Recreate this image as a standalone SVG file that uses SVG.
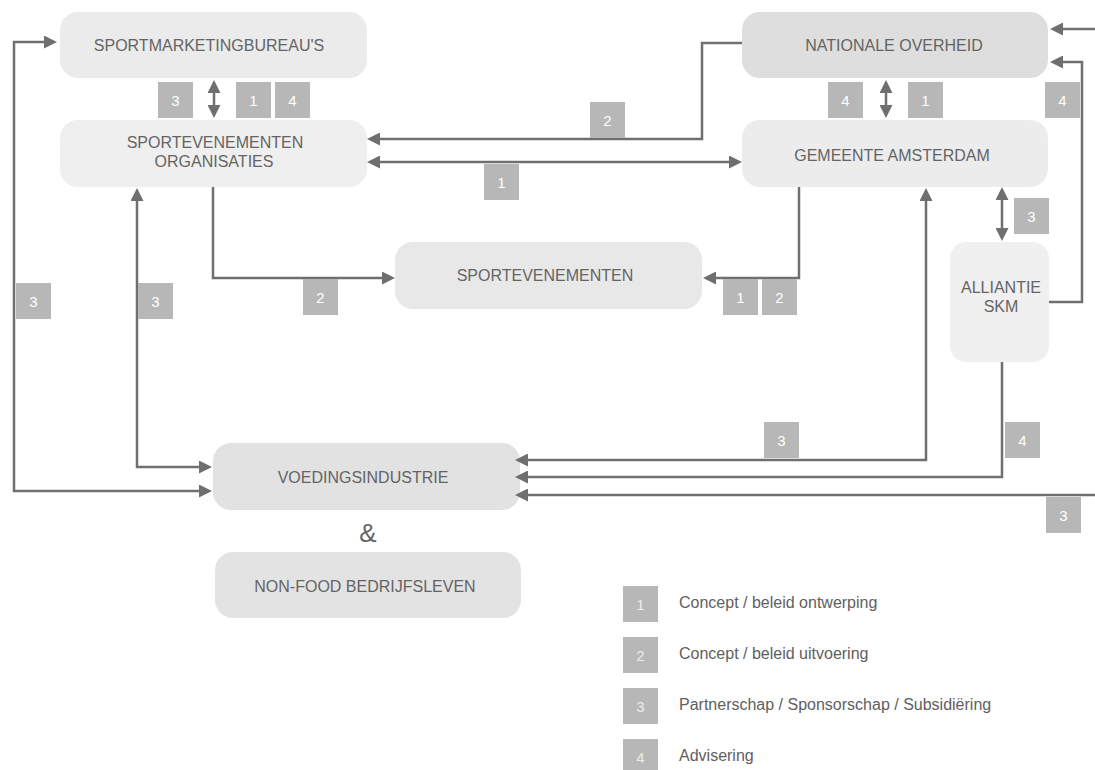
<svg xmlns="http://www.w3.org/2000/svg" width="1095" height="770" viewBox="0 0 1095 770">
  <defs>
    <marker id="arrow" markerUnits="userSpaceOnUse" markerWidth="13" markerHeight="13" refX="1" refY="6.5" orient="auto-start-reverse">
      <path d="M0,0 L13,6.5 L0,13 z" fill="#6f6f6f"/>
    </marker>
    <style>
      .node text { font-family: "Liberation Sans", Arial, sans-serif; font-size: 16px; fill: #646464; text-anchor: middle; }
      .box { stroke: none; }
      .edge { fill: none; stroke: #6f6f6f; stroke-width: 2.5; }
      .one { marker-end: url(#arrow); }
      .two { marker-start: url(#arrow); marker-end: url(#arrow); }
      .badge rect { fill: #b7b7b7; }
      .badge text { font-family: "Liberation Sans", Arial, sans-serif; font-size: 15px; fill: #ffffff; text-anchor: middle; }
      .legend .badge text { fill: #ececec; }
      .legend text.label { font-family: "Liberation Sans", Arial, sans-serif; font-size: 16px; fill: #606060; }
    </style>
  </defs>

  <rect width="1095" height="770" fill="#ffffff"/>

  <!-- nodes -->
  <g id="sportmarketingbureaus" class="node">
    <rect class="box" x="60" y="12" width="307" height="66" rx="18" fill="#ebebeb"/>
    <text x="209" y="51">SPORTMARKETINGBUREAU'S</text>
  </g>
  <g id="sportevenementen-organisaties" class="node">
    <rect class="box" x="60" y="120" width="307" height="67" rx="18" fill="#efefef"/>
    <text x="215" y="148">SPORTEVENEMENTEN</text>
    <text x="214" y="167">ORGANISATIES</text>
  </g>
  <g id="nationale-overheid" class="node">
    <rect class="box" x="742" y="12" width="306" height="66" rx="18" fill="#dedede"/>
    <text x="894" y="51">NATIONALE OVERHEID</text>
  </g>
  <g id="gemeente-amsterdam" class="node">
    <rect class="box" x="742" y="120" width="306" height="67" rx="18" fill="#ececec"/>
    <text x="892" y="161">GEMEENTE AMSTERDAM</text>
  </g>
  <g id="sportevenementen" class="node">
    <rect class="box" x="395" y="242" width="307" height="67" rx="18" fill="#e8e8e8"/>
    <text x="545" y="281">SPORTEVENEMENTEN</text>
  </g>
  <g id="alliantie-skm" class="node">
    <rect class="box" x="950" y="242" width="99" height="120" rx="16" fill="#f0f0f0"/>
    <text x="1001" y="293">ALLIANTIE</text>
    <text x="1001" y="312">SKM</text>
  </g>
  <g id="voedingsindustrie" class="node">
    <rect class="box" x="213" y="443" width="307" height="67" rx="18" fill="#e2e2e2"/>
    <text x="363" y="483">VOEDINGSINDUSTRIE</text>
  </g>
  <g id="ampersand" class="node">
    <text x="368" y="542" style="font-size:26px">&amp;</text>
  </g>
  <g id="non-food-bedrijfsleven" class="node">
    <rect class="box" x="215" y="552" width="306" height="66" rx="18" fill="#e3e3e3"/>
    <text x="365" y="592">NON-FOOD BEDRIJFSLEVEN</text>
  </g>

  <!-- connectors -->
  <g id="connectors">
    <path class="edge two" d="M45,42 L14,42 L14,491 L200,491"/>
    <path class="edge two" d="M137,200 L137,467 L200,467"/>
    <path class="edge two" d="M214,92 L214,106"/>
    <path class="edge two" d="M886,92 L886,106"/>
    <path class="edge two" d="M379,162 L730,162"/>
    <path class="edge one" d="M742,43 L702,43 L702,139 L379,139"/>
    <path class="edge one" d="M213,187 L213,278 L383,278"/>
    <path class="edge one" d="M799,187 L799,278 L715,278"/>
    <path class="edge two" d="M926,200 L926,460 L527,460"/>
    <path class="edge two" d="M1002,199 L1002,229"/>
    <path class="edge one" d="M1002,362 L1002,477 L527,477"/>
    <path class="edge one" d="M1095,495 L527,495"/>
    <path class="edge one" d="M1049,302 L1082,302 L1082,62 L1062,62"/>
    <path class="edge one" d="M1095,29 L1062,29"/>
  </g>

  <!-- relation badges -->
  <g id="badges">
    <g class="badge"><rect x="158" y="82" width="35" height="36"/><text x="175.5" y="105.5">3</text></g>
    <g class="badge"><rect x="236" y="82" width="35" height="36"/><text x="253.5" y="105.5">1</text></g>
    <g class="badge"><rect x="275" y="82" width="35" height="36"/><text x="292.5" y="105.5">4</text></g>
    <g class="badge"><rect x="828" y="82" width="35" height="36"/><text x="845.5" y="105.5">4</text></g>
    <g class="badge"><rect x="908" y="82" width="35" height="36"/><text x="925.5" y="105.5">1</text></g>
    <g class="badge"><rect x="1045" y="82" width="35" height="36"/><text x="1062.5" y="105.5">4</text></g>
    <g class="badge"><rect x="590" y="102" width="35" height="36"/><text x="607.5" y="125.5">2</text></g>
    <g class="badge"><rect x="484" y="164" width="35" height="36"/><text x="501.5" y="187.5">1</text></g>
    <g class="badge"><rect x="303" y="279" width="35" height="36"/><text x="320.5" y="302.5">2</text></g>
    <g class="badge"><rect x="723" y="279" width="35" height="36"/><text x="740.5" y="302.5">1</text></g>
    <g class="badge"><rect x="762" y="279" width="35" height="36"/><text x="779.5" y="302.5">2</text></g>
    <g class="badge"><rect x="1014" y="198" width="35" height="36"/><text x="1031.5" y="221.5">3</text></g>
    <g class="badge"><rect x="16" y="283" width="35" height="36"/><text x="33.5" y="306.5">3</text></g>
    <g class="badge"><rect x="138" y="283" width="35" height="36"/><text x="155.5" y="306.5">3</text></g>
    <g class="badge"><rect x="764" y="422" width="35" height="36"/><text x="781.5" y="445.5">3</text></g>
    <g class="badge"><rect x="1005" y="422" width="35" height="36"/><text x="1022.5" y="445.5">4</text></g>
    <g class="badge"><rect x="1046" y="497" width="35" height="36"/><text x="1063.5" y="520.5">3</text></g>
  </g>

  <!-- legend -->
  <g id="legend" class="legend">
    <g class="badge"><rect x="623" y="586" width="35" height="36"/><text x="640.5" y="609.5">1</text></g>
    <text class="label" x="679" y="608">Concept / beleid ontwerping</text>
    <g class="badge"><rect x="623" y="637" width="35" height="36"/><text x="640.5" y="660.5">2</text></g>
    <text class="label" x="679" y="659">Concept / beleid uitvoering</text>
    <g class="badge"><rect x="623" y="688" width="35" height="36"/><text x="640.5" y="711.5">3</text></g>
    <text class="label" x="679" y="710">Partnerschap / Sponsorschap / Subsidiëring</text>
    <g class="badge"><rect x="623" y="739" width="35" height="36"/><text x="640.5" y="762.5">4</text></g>
    <text class="label" x="679" y="761">Advisering</text>
  </g>
</svg>
